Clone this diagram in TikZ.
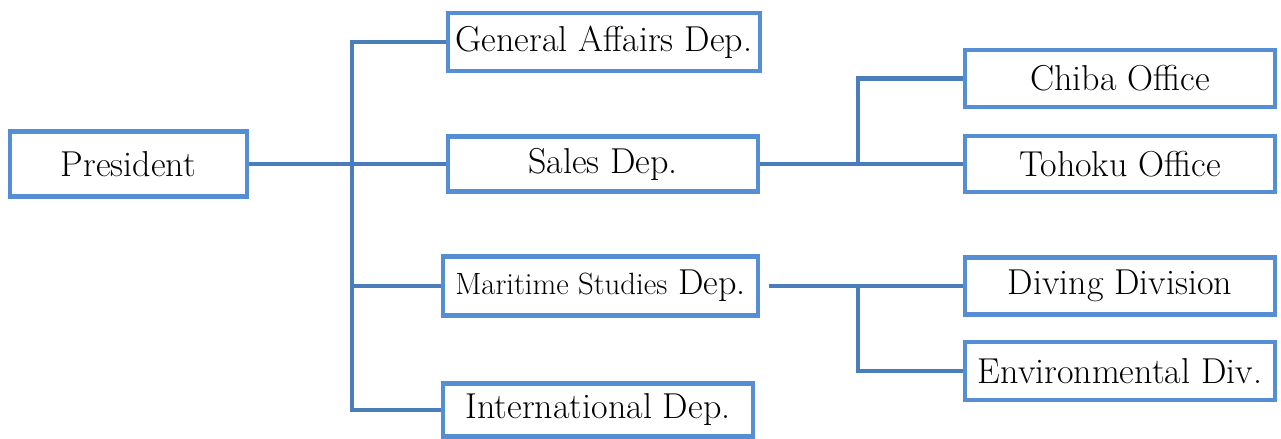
\documentclass[tikz,border=0pt]{standalone}
\usepackage{tikz}
\definecolor{bordeazul}{HTML}{558ED5}
\definecolor{lineaazul}{HTML}{4A7EBB}
\tikzset{
  caja/.style={draw=bordeazul, line width=2.6pt, rectangle, fill=white, inner sep=2pt,
    font=\fontsize{20.5}{24}\selectfont},
  conector/.style={draw=lineaazul, line width=2.5pt}
}
\begin{document}
\begin{tikzpicture}[x=0.02cm, y=-0.02cm]
    \useasboundingbox (0,0) rectangle (1281,439); % Marco de la imagen
    \node[caja, minimum width=4.74cm, minimum height=1.3cm] (pres) at (128.5,164) {President}; % Presidente
    \node[caja, minimum width=6.24cm, minimum height=1.16cm] (ga) at (604,42) {General Affairs Dep.};
    \node[caja, minimum width=6.2cm, minimum height=1.1cm] (sales) at (603,164) {Sales Dep.};
    \node[caja, minimum width=6.3cm, minimum height=1.18cm] (mar) at (600.5,286) {{\fontsize{17.5}{20}\selectfont Maritime Studies} Dep.};
    \node[caja, minimum width=6.2cm, minimum height=1.06cm] (intl) at (598,410) {International Dep.};
    \node[caja, minimum width=6.2cm, minimum height=1.14cm] (chiba) at (1120,78.5) {Chiba Office}; % Oficinas
    \node[caja, minimum width=6.2cm, minimum height=1.12cm] (tohoku) at (1120,164) {Tohoku Office};
    \node[caja, minimum width=6.2cm, minimum height=1.14cm] (diving) at (1120,286) {Diving Division}; % Divisiones
    \node[caja, minimum width=6.2cm, minimum height=1.16cm] (env) at (1120,371) {Environmental Div.};
    \coordinate (tronco) at (352,0); % Linea vertical principal
    \coordinate (rama) at (858,0); % Linea vertical de las ramas
    \draw[conector] (pres.east) -- (sales.west);
    \draw[conector] (ga.west) -- (ga.west -| tronco) -- (intl.west -| tronco) -- (intl.west);
    \draw[conector] (mar.west -| tronco) -- (mar.west);
    \draw[conector] (sales.east) -- (tohoku.west);
    \draw[conector] (sales.east -| rama) |- (chiba.west);
    \draw[conector] ([xshift=5]mar.east) -- (diving.west);
    \draw[conector] (mar.east -| rama) |- (env.west);
\end{tikzpicture}
\end{document}
